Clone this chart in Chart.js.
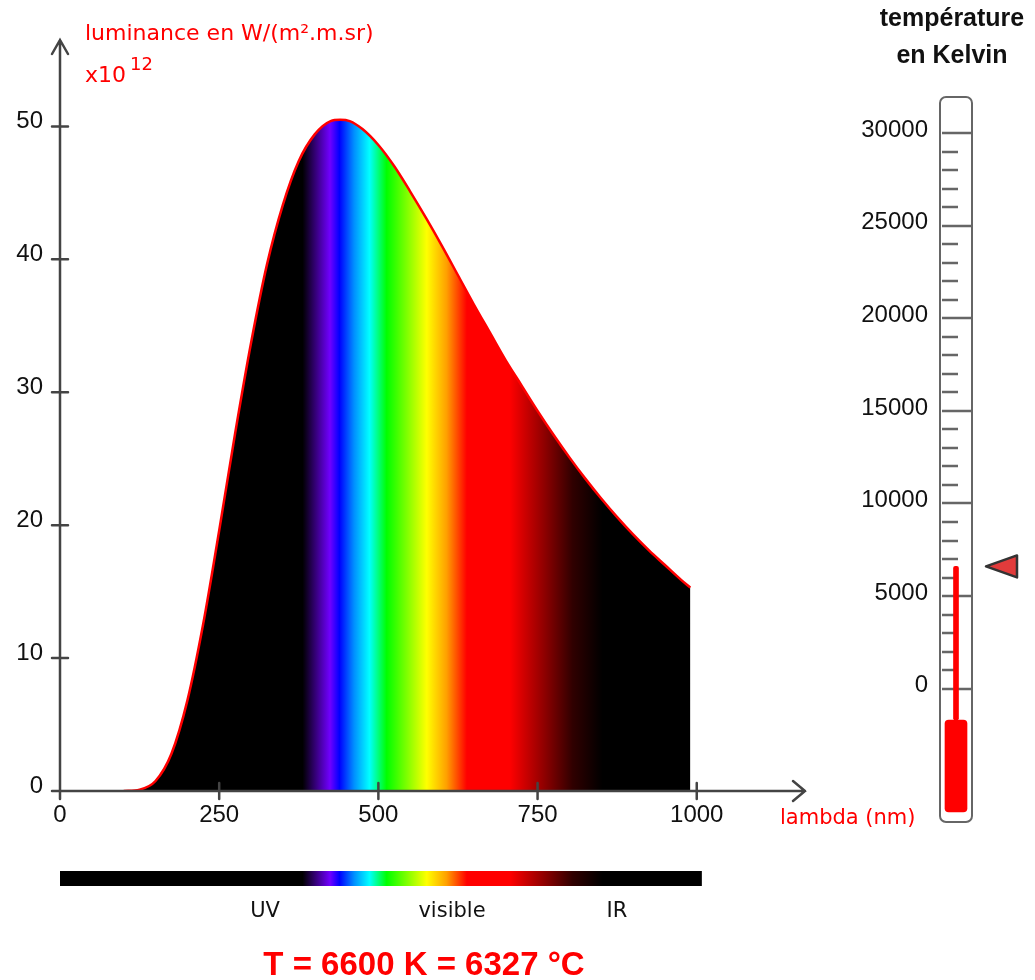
<!DOCTYPE html>
<html lang="fr">
<head>
<meta charset="utf-8">
<title>Rayonnement du corps noir</title>
<script src="https://cdn.jsdelivr.net/npm/chart.js@4.4.1/dist/chart.umd.min.js"></script>
<style>
  html, body { margin: 0; padding: 0; background: #fff; }
  #wrap { position: relative; width: 1035px; height: 980px; overflow: hidden; }
  canvas { position: absolute; top: 0; }
  #spectre { left: 0; }
  #thermo { left: 830px; }
</style>
</head>
<body>
<div id="wrap">
  <canvas id="spectre" width="1035" height="980"></canvas>
  <canvas id="thermo" width="205" height="980"></canvas>
</div>
<script>
// longueurs d'onde (nm) et luminance (x10^12 W/(m².m.sr))
const wavelengths = [100, 125, 150, 175, 200, 225, 250, 275, 300, 325, 350, 375, 400, 425, 440, 455, 475, 500,
  525, 550, 575, 600, 625, 650, 675, 700, 725, 750, 775, 800, 825, 850, 875, 900, 925, 950, 975, 990];
const luminance = [0.0, 0.1, 0.75, 2.8, 6.8, 12.6, 19.6, 26.9, 33.7, 39.6, 44.1, 47.4, 49.4, 50.4, 50.5, 50.4, 49.8, 48.6,
  47.0, 45.1, 43.1, 41.0, 38.8, 36.6, 34.5, 32.4, 30.5, 28.6, 26.8, 25.1, 23.5, 22.0, 20.6, 19.3, 18.1, 17.0, 15.9, 15.3];

// graduations
const xTicks = [0, 250, 500, 750, 1000];
const yTicks = [0, 10, 20, 30, 40, 50];
const thermoTicks = [0, 5000, 10000, 15000, 20000, 25000, 30000];

// température affichée
const temperatureK = 6600;
const mercuryBar = [[-1690, temperatureK]];
const bulbBar = [[-6650, -1690]];

// couleurs du spectre
const spectrumNm = [0, 381, 424, 439, 462, 486, 513, 545, 576, 607, 639, 706, 760, 805, 852, 1000];
const spectrumColors = ['#000000', '#000000', '#7000ff', '#0000ff', '#0090ff', '#00ffff', '#00ff00', '#80ff00',
  '#ffff00', '#ffa000', '#ff0000', '#ff0000', '#900000', '#300000', '#000000', '#000000'];

const comic = '"Comic Sans MS", "DejaVu Sans", sans-serif';
const arial = '"Liberation Sans", Arial, sans-serif';

function spectrumGradient(c, x0, x1) {
  const g = c.createLinearGradient(x0, 0, x1, 0);
  spectrumNm.forEach((nm, i) => g.addColorStop(nm / 1000, spectrumColors[i]));
  return g;
}

// axes avec flèches, graduations, titres et barre du spectre
const spectreDeco = {
  id: 'spectreDeco',
  afterDatasetsDraw(chart) {
    const { ctx, chartArea: a, scales: { x, y } } = chart;
    const x0 = x.getPixelForValue(0);
    const y0 = y.getPixelForValue(0);
    ctx.save();
    ctx.strokeStyle = '#444';
    ctx.lineWidth = 2.5;
    ctx.lineCap = 'round';
    ctx.beginPath();
    ctx.moveTo(x0 - 8, y0); ctx.lineTo(a.right, y0);
    ctx.moveTo(x0, y0 + 8); ctx.lineTo(x0, a.top);
    // flèches
    ctx.moveTo(a.right - 12, y0 - 10); ctx.lineTo(a.right, y0); ctx.lineTo(a.right - 12, y0 + 10);
    ctx.moveTo(x0 - 8, a.top + 14); ctx.lineTo(x0, a.top); ctx.lineTo(x0 + 8, a.top + 14);
    xTicks.forEach(v => {
      const px = x.getPixelForValue(v);
      ctx.moveTo(px, y0 - 8); ctx.lineTo(px, y0 + 8);
    });
    yTicks.forEach(v => {
      const py = y.getPixelForValue(v);
      ctx.moveTo(x0 - 8, py); ctx.lineTo(x0 + 8, py);
    });
    ctx.stroke();

    // titres en rouge
    ctx.fillStyle = '#ff0000';
    ctx.font = '22px ' + comic;
    ctx.textAlign = 'left';
    ctx.fillText('luminance en W/(m².m.sr)', 85, 40);
    ctx.fillText('x10', 85, 82);
    ctx.font = '18px ' + comic;
    ctx.fillText('12', 130, 70);
    ctx.font = '21px ' + comic;
    ctx.fillText('lambda (nm)', 780, 824);

    // barre du spectre
    const bx0 = x.getPixelForValue(0);
    const bx1 = x.getPixelForValue(1008);
    ctx.fillStyle = spectrumGradient(ctx, bx0, x.getPixelForValue(1000));
    ctx.fillRect(bx0, 871, bx1 - bx0, 15);

    ctx.fillStyle = '#111';
    ctx.font = '21px ' + comic;
    ctx.textAlign = 'center';
    ctx.fillText('UV', 265, 917);
    ctx.fillText('visible', 452, 917);
    ctx.fillText('IR', 617, 917);

    ctx.fillStyle = '#ff0000';
    ctx.font = 'bold 33px ' + arial;
    ctx.fillText(`T = ${temperatureK} K = ${temperatureK - 273} °C`, 424, 975);
    ctx.restore();
  }
};

new Chart(document.getElementById('spectre'), {
  type: 'line',
  data: {
    datasets: [{
      label: 'luminance',
      data: wavelengths.map((w, i) => ({ x: w, y: luminance[i] })),
      borderColor: '#ff0000',
      borderWidth: 2.5,
      pointRadius: 0,
      cubicInterpolationMode: 'monotone',
      fill: 'origin',
      backgroundColor: (context) => {
        const { chart } = context;
        if (!chart.chartArea) return '#000';
        const sx = chart.scales.x;
        return spectrumGradient(chart.ctx, sx.getPixelForValue(0), sx.getPixelForValue(1000));
      },
    }],
  },
  options: {
    responsive: false,
    animation: false,
    devicePixelRatio: 1,
    layout: { padding: { top: 40, right: 230, bottom: 129, left: 0 } },
    plugins: { legend: { display: false }, tooltip: { enabled: false } },
    scales: {
      x: {
        type: 'linear',
        min: 0,
        max: 1170,
        afterBuildTicks: s => { s.ticks = xTicks.map(v => ({ value: v })); },
        afterFit: s => { s.height = 60; },
        grid: { display: false, drawTicks: false },
        border: { display: false },
        ticks: { color: '#111', font: { family: arial, size: 24 }, padding: 10, maxRotation: 0, callback: v => String(v) },
      },
      y: {
        min: 0,
        max: 56.5,
        afterBuildTicks: s => { s.ticks = yTicks.map(v => ({ value: v })); },
        afterFit: s => { s.width = 60; },
        grid: { display: false, drawTicks: false },
        border: { display: false },
        ticks: { color: '#111', font: { family: arial, size: 24 }, padding: 17, labelOffset: -5, callback: v => String(v) },
      },
    },
  },
  plugins: [spectreDeco],
});

// thermomètre
const thermoDeco = {
  id: 'thermoDeco',
  beforeDatasetsDraw(chart) {
    const { ctx, chartArea: a, scales: { y } } = chart;
    ctx.save();
    ctx.strokeStyle = '#666';
    ctx.lineWidth = 2;
    ctx.beginPath();
    ctx.roundRect(a.left, a.top, a.right - a.left, a.bottom - a.top, 6);
    ctx.stroke();
    ctx.lineWidth = 2.5;
    ctx.beginPath();
    for (let v = 1000; v < 30000; v += 1000) {
      if (v % 5000 === 0) continue;
      const py = Math.round(y.getPixelForValue(v));
      ctx.moveTo(a.left + 2, py); ctx.lineTo(a.left + 18, py);
    }
    thermoTicks.forEach(v => {
      const py = Math.round(y.getPixelForValue(v));
      ctx.moveTo(a.left + 2, py); ctx.lineTo(a.right, py);
    });
    ctx.stroke();
    ctx.restore();
  },
  afterDraw(chart) {
    const { ctx, chartArea: a, scales: { y } } = chart;
    ctx.save();
    ctx.fillStyle = '#111';
    ctx.font = 'bold 25px ' + arial;
    ctx.textAlign = 'center';
    ctx.fillText('température', 122, 26);
    ctx.fillText('en Kelvin', 122, 63);
    // repère de température
    const py = y.getPixelForValue(temperatureK);
    const tx = a.right + 14;
    ctx.beginPath();
    ctx.moveTo(tx, py);
    ctx.lineTo(tx + 31, py - 11);
    ctx.lineTo(tx + 31, py + 11);
    ctx.closePath();
    ctx.fillStyle = '#e23b3b';
    ctx.fill();
    ctx.strokeStyle = '#333';
    ctx.lineWidth = 2.5;
    ctx.lineJoin = 'round';
    ctx.stroke();
    ctx.restore();
  }
};

new Chart(document.getElementById('thermo'), {
  type: 'bar',
  data: {
    labels: ['T'],
    datasets: [
      { label: 'réservoir', data: bulbBar, backgroundColor: '#ff0000', barThickness: 22, borderRadius: 4, borderSkipped: false, grouped: false },
      { label: 'mercure', data: mercuryBar, backgroundColor: '#ff0000', barThickness: 5, borderRadius: 2, borderSkipped: false, grouped: false },
    ],
  },
  options: {
    responsive: false,
    animation: false,
    devicePixelRatio: 1,
    layout: { padding: { top: 97, right: 63, bottom: 158, left: 0 } },
    plugins: { legend: { display: false }, tooltip: { enabled: false } },
    scales: {
      x: { display: false },
      y: {
        min: -7200,
        max: 31950,
        afterBuildTicks: s => { s.ticks = thermoTicks.map(v => ({ value: v })); },
        afterFit: s => { s.width = 110; },
        grid: { display: false, drawTicks: false },
        border: { display: false },
        ticks: { color: '#111', font: { family: arial, size: 24 }, padding: 12, labelOffset: -3, callback: v => String(v) },
      },
    },
  },
  plugins: [thermoDeco],
});
</script>
</body>
</html>
